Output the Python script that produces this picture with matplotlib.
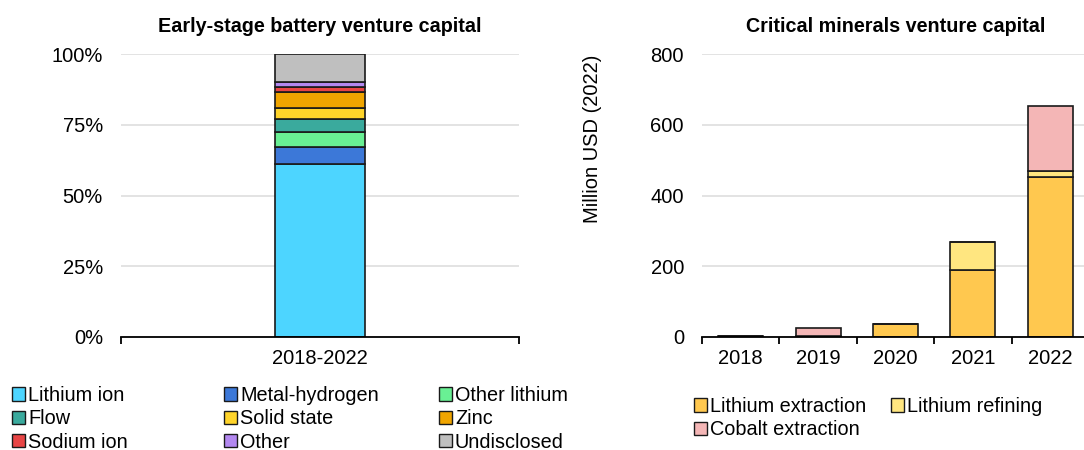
import numpy as np
import matplotlib.pyplot as plt
from matplotlib.patches import Patch

plt.rcParams['font.family'] = ['Liberation Sans', 'DejaVu Sans']
plt.rcParams['font.size'] = 14.5

# battery VC shares by chemistry, 2018-2022
chem_labels = ["Lithium ion", "Metal-hydrogen", "Other lithium", "Flow", "Solid state",
               "Zinc", "Sodium ion", "Other", "Undisclosed"]
chem_share = [0.611, 0.060, 0.054, 0.045, 0.038, 0.057, 0.020, 0.015, 0.100]
chem_colors = ["#4dd5ff", "#3c78d8", "#69f094", "#3aaa9d", "#ffd42a",
               "#f0a500", "#e84545", "#b388f0", "#bfbfbf"]

# critical minerals VC, million USD (2022)
years = ["2018", "2019", "2020", "2021", "2022"]
li_extraction = [1.5, 3, 36, 190, 453]
li_refining = [0, 0, 0, 78, 17]
co_extraction = [0, 22, 0, 0, 182]
mineral_labels = ["Lithium extraction", "Lithium refining", "Cobalt extraction"]
mineral_colors = ["#ffc84f", "#ffe680", "#f4b6b6"]

fig = plt.figure(figsize=(10.84, 4.5), dpi=100)
W, H = 1084, 450


def px_axes(x0, x1, ytop, ybot):
    return fig.add_axes([x0 / W, 1 - ybot / H, (x1 - x0) / W, (ybot - ytop) / H])


def style(ax):
    for s in ["top", "right", "left"]:
        ax.spines[s].set_visible(False)
    ax.spines["bottom"].set_linewidth(1.3)
    ax.yaxis.grid(True, color="#dedede", linewidth=1.2)
    ax.set_axisbelow(True)
    ax.tick_params(axis="y", length=0, pad=13)
    ax.tick_params(axis="x", length=0, pad=9)


def legend_col(handles, labels, x, y):
    leg = fig.legend(handles, labels, loc="upper left", bbox_to_anchor=(x / W, 1 - y / H),
                     frameon=False, fontsize=14.3, handlelength=0.65, handleheight=0.65,
                     handletextpad=0.15, labelspacing=0.22, borderaxespad=0, borderpad=0)
    return leg


# left: stacked share bar
ax1 = px_axes(121, 519, 54, 337)
style(ax1)
bottom = 0
for lab, v, c in zip(chem_labels, chem_share, chem_colors):
    ax1.bar(0, v, bottom=bottom, width=0.224, color=c, edgecolor="#1a1a1a", linewidth=1.2)
    bottom += v
ax1.set_xlim(-0.5, 0.5)
ax1.set_ylim(0, 1)
ax1.set_yticks([0, 0.25, 0.5, 0.75, 1.0])
ax1.set_yticklabels(["0%", "25%", "50%", "75%", "100%"])
ax1.set_xticks([0])
ax1.set_xticklabels(["2018-2022"])
ax1.set_xticks([-0.5, 0.5], minor=True)
ax1.tick_params(axis="x", which="minor", length=5, width=1.3, direction="out")
ax1.set_title("Early-stage battery venture capital", fontsize=14.2, fontweight="bold", pad=16)

# right: stacked minerals bars
ax2 = px_axes(702, 1089, 54, 337)
style(ax2)
x = np.arange(len(years))
b = np.zeros(len(years))
for vals, c in zip([li_extraction, li_refining, co_extraction], mineral_colors):
    vals = np.array(vals, dtype=float)
    ax2.bar(x, vals, bottom=b, width=0.58, color=c, edgecolor="#1a1a1a", linewidth=1.2)
    b += vals
ax2.set_xlim(-0.5, 4.5)
ax2.set_ylim(0, 800)
ax2.set_yticks([0, 200, 400, 600, 800])
ax2.set_xticks(x)
ax2.set_xticklabels(years)
ax2.set_xticks(np.arange(-0.5, 5, 1), minor=True)
ax2.tick_params(axis="x", which="minor", length=5, width=1.3, direction="out")
ax2.set_ylabel("Million USD (2022)", labelpad=35, y=0.70)
ax2.set_title("Critical minerals venture capital", fontsize=14.2, fontweight="bold", pad=16)

# legends, one per column
h1 = [Patch(facecolor=c, edgecolor="#1a1a1a", linewidth=1.0) for c in chem_colors]
for col, xpos in enumerate([12, 224, 439]):
    idx = [col, col + 3, col + 6]
    legend_col([h1[i] for i in idx], [chem_labels[i] for i in idx], xpos, 386)

h2 = [Patch(facecolor=c, edgecolor="#1a1a1a", linewidth=1.0) for c in mineral_colors]
legend_col([h2[0], h2[2]], [mineral_labels[0], mineral_labels[2]], 694, 397)
legend_col([h2[1]], [mineral_labels[1]], 891, 397)

fig.savefig("out.png", dpi=100)
